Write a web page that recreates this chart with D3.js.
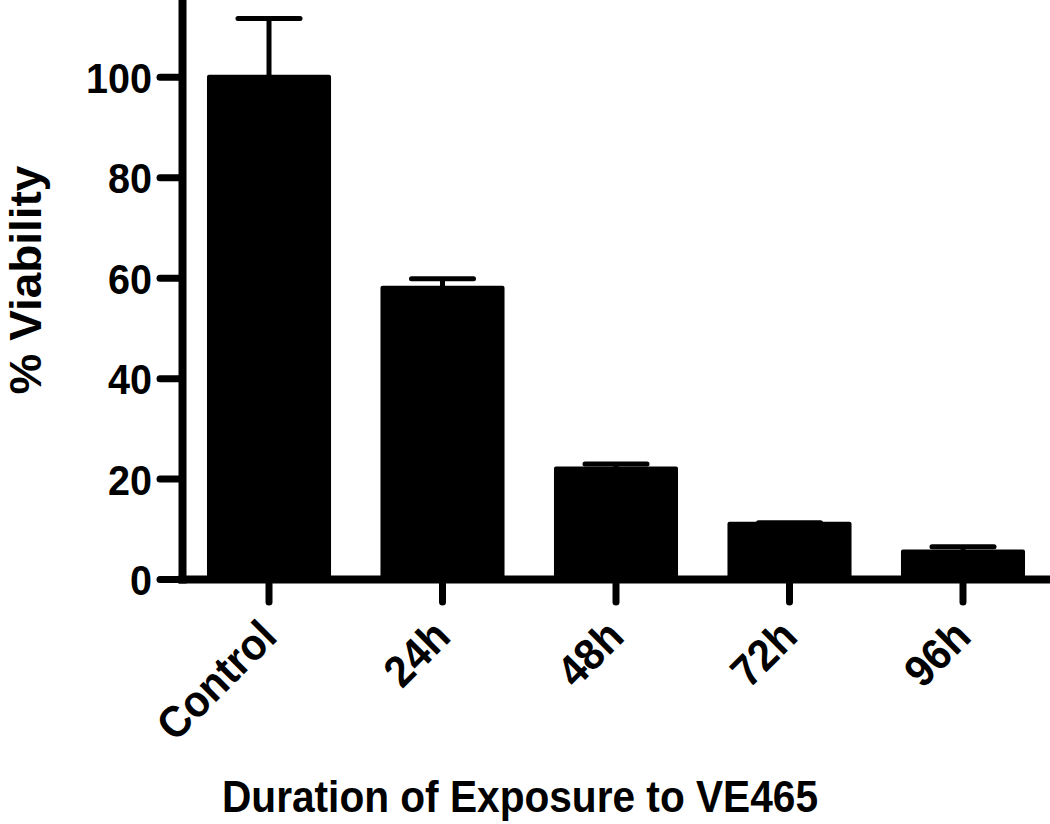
<!DOCTYPE html>
<html>
<head>
<meta charset="utf-8">
<script src="https://cdn.jsdelivr.net/npm/d3@7"></script>
<style>
  body { margin: 0; background: #fff; }
  svg text { font-family: "Liberation Sans", Arial, sans-serif; font-weight: bold; fill: #000; }
</style>
</head>
<body>
<div id="chart"></div>
<script>
const categories = ['Control', '24h', '48h', '72h', '96h'];
const viability = [100, 58, 22, 11, 5.5];
const sem = [11.6, 1.8, 0.9, 0.2, 0.9];
const yTicks = [0, 20, 40, 60, 80, 100];

const width = 1050;
const height = 824;

const svg = d3.select('#chart').append('svg')
    .attr('width', width)
    .attr('height', height);

// squeeze text a little, the original font is narrower than Arial
const narrow = function (sel, k) {
    sel.each(function () {
        const len = this.getComputedTextLength();
        d3.select(this)
            .attr('textLength', len * k)
            .attr('lengthAdjust', 'spacingAndGlyphs');
    });
};

// scales
const x = d3.scaleBand()
    .domain(categories)
    .range([182, 1050])
    .paddingInner(0.285)
    .paddingOuter(0.144);

const y = d3.scaleLinear()
    .domain([0, 115.3])
    .range([579, 0]);

const data = categories.map(function (c, i) {
    return {name: c, value: viability[i], err: sem[i]};
});

// error bars (upper only), drawn under bars
const errG = svg.append('g');
errG.selectAll('line.stem')
    .data(data)
    .enter()
    .append('line')
    .attr('class', 'stem')
    .attr('x1', d => x(d.name) + x.bandwidth() / 2)
    .attr('x2', d => x(d.name) + x.bandwidth() / 2)
    .attr('y1', d => y(d.value))
    .attr('y2', d => y(d.value + d.err))
    .attr('stroke', '#000')
    .attr('stroke-width', 5);

errG.selectAll('line.cap')
    .data(data)
    .enter()
    .append('line')
    .attr('class', 'cap')
    .attr('x1', d => x(d.name) + x.bandwidth() / 4)
    .attr('x2', d => x(d.name) + x.bandwidth() * 3 / 4)
    .attr('y1', d => y(d.value + d.err))
    .attr('y2', d => y(d.value + d.err))
    .attr('stroke', '#000')
    .attr('stroke-width', 5)
    .attr('stroke-linecap', 'round');

// bars
svg.append('g').selectAll('rect')
    .data(data)
    .enter()
    .append('rect')
    .attr('x', d => x(d.name) + 2)
    .attr('width', x.bandwidth() - 4)
    .attr('y', d => y(d.value))
    .attr('height', d => y(0) - y(d.value))
    .attr('fill', '#000')
    .attr('stroke', '#000')
    .attr('stroke-width', 4)
    .attr('stroke-linejoin', 'round');

// y axis
const yAxis = svg.append('g')
    .attr('transform', 'translate(182,0)')
    .call(d3.axisLeft(y).tickValues(yTicks).tickSize(22).tickSizeOuter(0).tickPadding(8));

yAxis.select('.domain')
    .attr('stroke', '#000')
    .attr('stroke-width', 8)
    .attr('stroke-linecap', 'square');
yAxis.selectAll('.tick line')
    .attr('stroke', '#000')
    .attr('stroke-width', 7)
    .attr('stroke-linecap', 'round');
yAxis.selectAll('.tick text')
    .style('font-size', '43px')
    .attr('dy', '0.36em')
    .call(narrow, 0.92);

// x axis
const xAxis = svg.append('g')
    .attr('transform', 'translate(0,579)')
    .call(d3.axisBottom(x).tickSize(23).tickSizeOuter(0));

xAxis.select('.domain')
    .attr('stroke', '#000')
    .attr('stroke-width', 8)
    .attr('stroke-linecap', 'square');
xAxis.selectAll('.tick line')
    .attr('stroke', '#000')
    .attr('stroke-width', 7)
    .attr('stroke-linecap', 'round');
xAxis.selectAll('.tick text')
    .style('font-size', '44px')
    .attr('x', 0)
    .attr('y', 0)
    .attr('dy', 0)
    .attr('text-anchor', 'end')
    .attr('transform', 'translate(10,60) rotate(-45)')
    .call(narrow, 0.94);

// axis titles
svg.append('text')
    .attr('transform', 'translate(41,280) rotate(-90)')
    .attr('text-anchor', 'middle')
    .style('font-size', '45px')
    .text('% Viability')
    .call(narrow, 1.02);

svg.append('text')
    .attr('x', 520)
    .attr('y', 812)
    .attr('text-anchor', 'middle')
    .style('font-size', '44px')
    .attr('textLength', 596)
    .attr('lengthAdjust', 'spacingAndGlyphs')
    .text('Duration of Exposure to VE465');
</script>
</body>
</html>
